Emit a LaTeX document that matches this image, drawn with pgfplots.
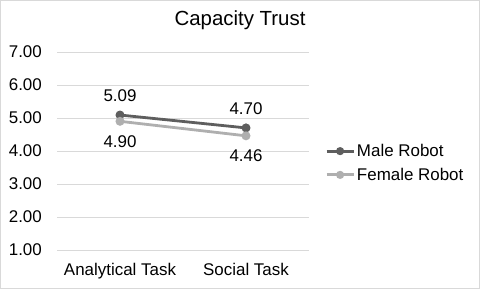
\documentclass[border=0pt]{standalone}
\usepackage{pgfplots}
\pgfplotsset{compat=1.18}
\usepackage{fontspec}
\setmainfont{Liberation Sans}
\definecolor{maleC}{HTML}{5E5E5E}
\definecolor{femaleC}{HTML}{AFAFAF}
\definecolor{gridC}{HTML}{D9D9D9}
\begin{document}
\begin{tikzpicture}
\begin{axis}[
  at={(0,0)}, anchor=south west,
  scale only axis, width=252bp, height=198bp,
  xmin=-0.5, xmax=1.5, ymin=1, ymax=7,
  xtick=data, xticklabels={Analytical Task, Social Task},
  ytick={1,2,3,4,5,6,7},
  major tick length=0pt,
  axis line style={draw=none},
  ymajorgrids, grid style={gridC, line width=1bp},
  /pgf/number format/.cd, fixed, fixed zerofill, precision=2, assume math mode=true,
  /pgfplots/.cd,
  ticklabel style={font=\fontsize{17}{20}\selectfont, inner sep=0pt},
  yticklabel style={anchor=east, xshift=-15bp},
  xticklabel style={anchor=north, yshift=-13bp},
  title={Capacity Trust},
  title style={font=\fontsize{20.5}{24}\selectfont, at={(0.5,1)}, anchor=base, xshift=57bp, yshift=21bp, inner sep=0pt},
  legend style={draw=none, fill=none, at={(1,0.5)}, anchor=west, xshift=16bp, yshift=-12bp,
    font=\fontsize{17}{20}\selectfont, row sep=6bp, inner sep=0pt,
    /tikz/every even column/.append style={column sep=0bp}},
  legend cell align=left,
  legend image code/.code={\draw[mark repeat=2, mark phase=2, #1, mark size=2.6bp] plot coordinates {(0bp,0bp) (13.5bp,0bp) (27bp,0bp)};},
  nodes near coords,
  nodes near coords style={font=\fontsize{17}{20}\selectfont, text=black, anchor=center},
]
\addplot[maleC, line width=2.8bp, mark=*, mark size=3bp, mark options={fill=maleC, draw=maleC},
  nodes near coords style={yshift=19bp}]
  coordinates {(0,5.09) (1,4.70)};
\addlegendentry{Male Robot}
\addplot[femaleC, line width=2.8bp, mark=*, mark size=3bp, mark options={fill=femaleC, draw=femaleC},
  nodes near coords style={yshift=-20bp}]
  coordinates {(0,4.90) (1,4.46)};
\addlegendentry{Female Robot}
\end{axis}
\draw[gridC, line width=1bp] (-56.5bp,-38.5bp) rectangle (422.5bp,249.5bp);
\pgfresetboundingbox
\path (-57bp,-39bp) rectangle (423bp,250bp);
\end{tikzpicture}
\end{document}
